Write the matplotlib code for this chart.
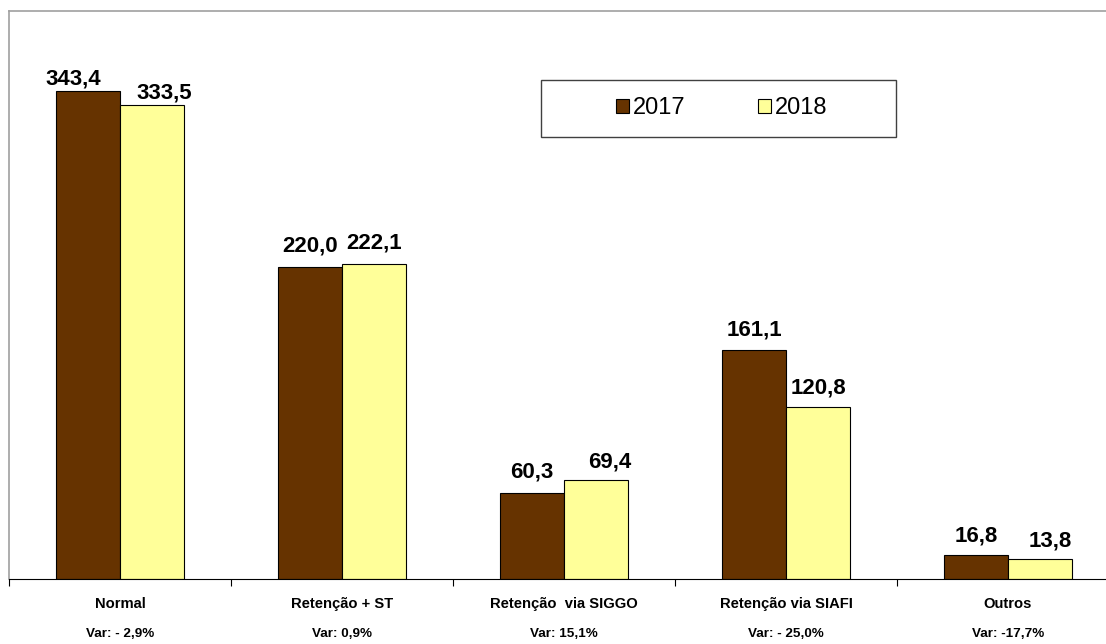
import numpy as np
import matplotlib
matplotlib.use("Agg")
import matplotlib.pyplot as plt
from matplotlib.patches import Rectangle

plt.rcParams['font.family'] = ['Liberation Sans', 'DejaVu Sans']

# Data
categories = ["Normal", "Retenção + ST", "Retenção  via SIGGO", "Retenção via SIAFI", "Outros"]
variations = ["Var: - 2,9%", "Var: 0,9%", "Var: 15,1%", "Var: - 25,0%", "Var: -17,7%"]
values_2017 = [343.4, 220.0, 60.3, 161.1, 16.8]
values_2018 = [333.5, 222.1, 69.4, 120.8, 13.8]

# label nudges in pixels (dx, dy above bar top)
nudge_2017 = [(-15, 2), (0, 10), (0, 11), (0, 10), (0, 9)]
nudge_2018 = [(12, 2), (0, 10), (14, 8), (0, 9), (10, 8)]

px_per_unit = (579 - 11) / 400

fig = plt.figure(figsize=(11.06, 6.44), dpi=100)
ax = fig.add_axes([9 / 1106, 1 - 579 / 644, 1110 / 1106, (579 - 11) / 644])

x = np.arange(len(categories))
w = 0.288
b1 = ax.bar(x - w / 2, values_2017, w, color="#663300", edgecolor="black", linewidth=0.8, label="2017")
b2 = ax.bar(x + w / 2, values_2018, w, color="#FFFF99", edgecolor="black", linewidth=0.8, label="2018")


def fmt(v):
    return f"{v:.1f}".replace(".", ",")


for bars, vals, nudges in [(b1, values_2017, nudge_2017), (b2, values_2018, nudge_2018)]:
    for rect, v, (dx, dy) in zip(bars, vals, nudges):
        ax.annotate(fmt(v), (rect.get_x() + rect.get_width() / 2, v),
                    xytext=(dx * 0.72, dy * 0.72), textcoords="offset points",
                    ha="center", va="bottom", fontsize=16, fontweight="bold")

ax.set_xlim(-0.5, len(categories) - 0.5)
ax.set_ylim(0, 400)
ax.set_yticks([])
ax.set_xticks(np.arange(len(categories) + 1) - 0.5)
ax.set_xticklabels([])
ax.tick_params(axis="x", direction="out", length=5, width=0.8, colors="black")

for i, (cat, var) in enumerate(zip(categories, variations)):
    ax.text(i, -25 / px_per_unit, cat, ha="center", va="center", fontsize=10.6, fontweight="bold")
    ax.text(i, -55 / px_per_unit, var, ha="center", va="center", fontsize=9.7, fontweight="bold")

for side in ["left", "top"]:
    ax.spines[side].set_color("#a0a0a0")
    ax.spines[side].set_linewidth(1.2)
ax.spines["right"].set_visible(False)
ax.spines["bottom"].set_color("black")

# legend box (drawn separately for Excel-like padding)
ax.add_patch(Rectangle(((541 - 9) / 1110, (579 - 137) / 568), 355 / 1110, 57 / 568,
                       transform=ax.transAxes, facecolor="white", edgecolor="#404040",
                       linewidth=1.0, zorder=4, clip_on=False))
leg = ax.legend(loc="center left", bbox_to_anchor=((616 - 9) / 1110, (579 - 108) / 568), ncol=2,
                fontsize=17, frameon=False, borderpad=0, borderaxespad=0,
                handlelength=0.55, handleheight=0.55, handletextpad=0.15, columnspacing=3.1)
leg.set_zorder(5)

plt.savefig("out.png", dpi=100)
